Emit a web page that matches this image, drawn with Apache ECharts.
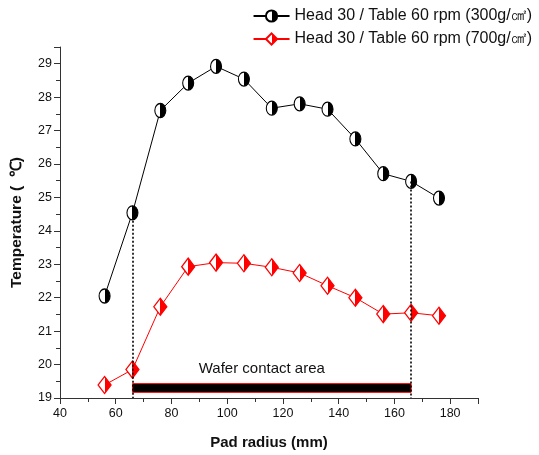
<!DOCTYPE html>
<html>
<head>
<meta charset="utf-8">
<script src="https://cdn.jsdelivr.net/npm/echarts@6/dist/echarts.min.js"></script>
<style>
  html, body { margin: 0; padding: 0; background: #fff; }
  #main { width: 539px; height: 455px; }
</style>
</head>
<body>
<div id="main"></div>
<script>
// pad radius positions (mm)
var radius = [56, 66, 76, 86, 96, 106, 116, 126, 136, 146, 156, 166, 176];
// temperature, 300 g/cm2
var temp300 = [22.05, 24.54, 27.6, 28.42, 28.92, 28.54, 27.67, 27.8, 27.64, 26.75, 25.71, 25.48, 24.98];
// temperature, 700 g/cm2
var temp700 = [19.39, 19.85, 21.73, 22.93, 23.05, 23.03, 22.91, 22.74, 22.36, 22.0, 21.51, 21.55, 21.46];
var seriesNames = ['Head 30 / Table 60 rpm (300g/㎠)', 'Head 30 / Table 60 rpm (700g/㎠)'];
// wafer contact area: radius from / to, band bottom / top (temperature units)
var waferRange = [66, 166];
var waferBand = [19.17, 19.43];
var waferLabel = 'Wafer contact area';

var font = 'Liberation Sans, Arial, sans-serif';

function halfFill(c) {
    return new echarts.graphic.LinearGradient(0, 0, 1, 0, [
        { offset: 0, color: '#fff' },
        { offset: 0.5, color: '#fff' },
        { offset: 0.5, color: c },
        { offset: 1, color: c }
    ]);
}

function pairs(ys) {
    return radius.map(function (x, i) { return [x, ys[i]]; });
}

var myChart = echarts.init(document.getElementById('main'));

var option = {
    backgroundColor: '#fff',
    animation: false,
    textStyle: { fontFamily: font },
    legend: {
        orient: 'vertical',
        right: 2,
        top: 3,
        itemWidth: 36,
        itemHeight: 14,
        itemGap: 7,
        textStyle: { fontFamily: font, fontSize: 16, color: '#111' },
        data: seriesNames
    },
    grid: { left: 60, right: 61, top: 47, bottom: 57 },
    xAxis: {
        type: 'value',
        min: 40,
        max: 190,
        interval: 20,
        name: 'Pad radius (mm)',
        nameLocation: 'middle',
        nameGap: 37,
        nameTextStyle: { fontFamily: font, fontSize: 15, fontWeight: 'bold', color: '#111' },
        axisLine: { show: true, lineStyle: { color: '#333', width: 1 } },
        axisTick: { show: true, inside: false, length: 6, lineStyle: { color: '#333' } },
        minorTick: { show: true, splitNumber: 2, length: 4, lineStyle: { color: '#333' } },
        axisLabel: { fontFamily: font, fontSize: 12.5, color: '#111', margin: 9, showMaxLabel: false },
        splitLine: { show: false }
    },
    yAxis: {
        type: 'value',
        min: 19,
        max: 29.5,
        interval: 1,
        name: 'Temperature (  ℃)',
        nameLocation: 'middle',
        nameGap: 35,
        nameTextStyle: { fontFamily: font, fontSize: 15.5, fontWeight: 'bold', color: '#111' },
        axisLine: { show: true, lineStyle: { color: '#333', width: 1 } },
        axisTick: { show: true, inside: false, length: 6, lineStyle: { color: '#333' } },
        minorTick: { show: true, splitNumber: 2, length: 4, lineStyle: { color: '#333' } },
        axisLabel: { fontFamily: font, fontSize: 12.5, color: '#111', margin: 8, showMaxLabel: false },
        splitLine: { show: false }
    },
    series: [
        {
            name: seriesNames[0],
            type: 'line',
            data: pairs(temp300),
            symbol: 'circle',
            symbolSize: [11, 14],
            lineStyle: { color: '#000', width: 1 },
            itemStyle: { color: halfFill('#000'), borderColor: '#000', borderWidth: 1.2 },
            z: 3,
            markLine: {
                silent: true,
                symbol: 'none',
                label: { show: false },
                lineStyle: { color: '#000', type: [2, 2], width: 1.6 },
                data: [
                    [{ coord: [radius[1], temp300[1]] }, { coord: [radius[1], 19] }],
                    [{ coord: [radius[11], temp300[11]] }, { coord: [radius[11], 19] }]
                ]
            }
        },
        {
            name: seriesNames[1],
            type: 'line',
            data: pairs(temp700),
            symbol: 'diamond',
            symbolSize: [13, 17],
            lineStyle: { color: '#ff0000', width: 1 },
            itemStyle: { color: halfFill('#ff0000'), borderColor: '#ff0000', borderWidth: 1.3 },
            z: 3,
            markArea: {
                silent: true,
                itemStyle: { color: '#000', borderColor: '#ff0000', borderWidth: 1, opacity: 1 },
                label: {
                    show: true,
                    position: 'top',
                    distance: 7,
                    offset: [-10, 0],
                    fontFamily: font,
                    fontSize: 15,
                    color: '#111'
                },
                data: [[
                    { name: waferLabel, coord: [waferRange[0], waferBand[0]] },
                    { coord: [waferRange[1], waferBand[1]] }
                ]]
            }
        }
    ]
};

myChart.setOption(option);
</script>
</body>
</html>
